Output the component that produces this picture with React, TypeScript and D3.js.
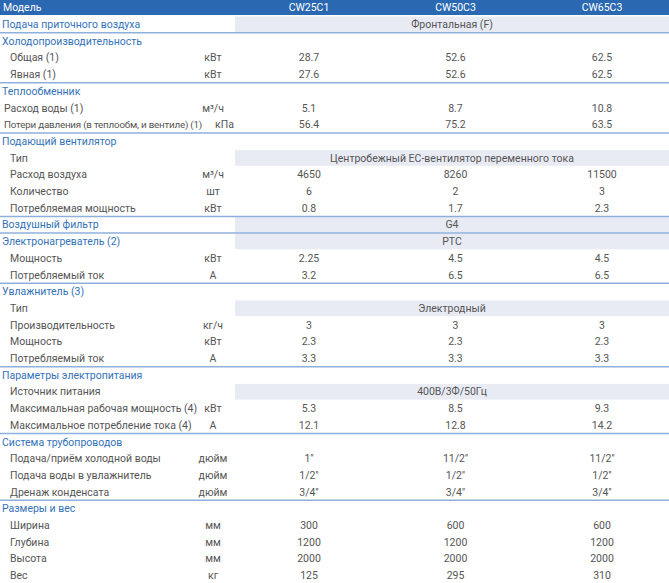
import React from "react";
import * as d3 from "d3";

const models = ["CW25C1", "CW50C3", "CW65C3"];

// kind: s = section header, i = indented item, f = flush item
const rowKinds = [
  "s", "s", "i", "i", "s", "f", "f", "s", "i", "i", "i", "i", "s", "s", "i", "i",
  "s", "i", "i", "i", "i", "s", "i", "i", "i", "s", "i", "i", "i", "s", "i", "i", "i", "i",
];

const rowLabels = [
  "Подача приточного воздуха",
  "Холодопроизводительность",
  "Общая (1)",
  "Явная (1)",
  "Теплообменник",
  "Расход воды (1)",
  "Потери давления (в теплообм, и вентиле) (1)",
  "Подающий вентилятор",
  "Тип",
  "Расход воздуха",
  "Количество",
  "Потребляемая мощность",
  "Воздушный фильтр",
  "Электронагреватель (2)",
  "Мощность",
  "Потребляемый ток",
  "Увлажнитель (3)",
  "Тип",
  "Производительность",
  "Мощность",
  "Потребляемый ток",
  "Параметры электропитания",
  "Источник питания",
  "Максимальная рабочая мощность (4)",
  "Максимальное потребление тока (4)",
  "Система трубопроводов",
  "Подача/приём холодной воды",
  "Подача воды в увлажнитель",
  "Дренаж конденсата",
  "Размеры и вес",
  "Ширина",
  "Глубина",
  "Высота",
  "Вес",
];

const rowUnits = [
  "", "", "кВт", "кВт", "", "м³/ч", "кПа", "", "", "м³/ч", "шт", "кВт", "", "", "кВт", "А",
  "", "", "кг/ч", "кВт", "А", "", "", "кВт", "А", "", "дюйм", "дюйм", "дюйм", "", "мм", "мм", "мм", "кг",
];

// merged (spanning all models) cell text, by row index
const mergedCells: [number, string][] = [
  [0, "Фронтальная (F)"],
  [8, "Центробежный EC-вентилятор переменного тока"],
  [12, "G4"],
  [13, "PTC"],
  [17, "Электродный"],
  [22, "400В/3Ф/50Гц"],
];

// per-model values, by row index
const modelValues: [number, string[]][] = [
  [2, ["28.7", "52.6", "62.5"]],
  [3, ["27.6", "52.6", "62.5"]],
  [5, ["5.1", "8.7", "10.8"]],
  [6, ["56.4", "75.2", "63.5"]],
  [9, ["4650", "8260", "11500"]],
  [10, ["6", "2", "3"]],
  [11, ["0.8", "1.7", "2.3"]],
  [14, ["2.25", "4.5", "4.5"]],
  [15, ["3.2", "6.5", "6.5"]],
  [18, ["3", "3", "3"]],
  [19, ["2.3", "2.3", "2.3"]],
  [20, ["3.3", "3.3", "3.3"]],
  [23, ["5.3", "8.5", "9.3"]],
  [24, ["12.1", "12.8", "14.2"]],
  [26, ["1''", "11/2''", "11/2''"]],
  [27, ["1/2''", "1/2''", "1/2''"]],
  [28, ["3/4''", "3/4''", "3/4''"]],
  [30, ["300", "600", "600"]],
  [31, ["1200", "1200", "1200"]],
  [32, ["2000", "2000", "2000"]],
  [33, ["125", "295", "310"]],
];

// rows after which a divider line is drawn
const dividerAfter = [0, 3, 6, 11, 12, 15, 20, 24, 28];

const W = 669;
const H = 583;
const FONT = "Roboto, 'Noto Sans', sans-serif";
const BLUE = "#2a68b2";
const SECTION = "#3472b9";
const TEXT = "#555555";
const LINE = "#8fb0dc";
const BAND = "#e9ebf4";

export default function App() {
  const idx = d3.range(rowLabels.length);
  const y = d3
    .scaleBand<number>()
    .domain(idx)
    .range([16, 16 + rowLabels.length * 16.7]);
  const x = d3.scalePoint<string>().domain(models).range([309, 602]);
  const bandX0 = 235;
  const mergedCenter = (bandX0 + W) / 2;
  const unitX = 213;
  const fs = 10.5;

  return (
    <div style={{ position: "absolute", left: 0, top: 0 }}>
      <svg width={W} height={H} style={{ display: "block" }} fontFamily={FONT}>
        <rect x={0} y={0} width={W} height={H} fill="#ffffff" />
        {/* header */}
        <rect x={0} y={0} width={W} height={15} fill={BLUE} />
        <text x={3} y={7.5} dy="0.35em" fill="#ffffff" fontSize={fs}>
          Модель
        </text>
        {models.map((m) => (
          <text key={m} x={x(m)} y={7.5} dy="0.35em" fill="#ffffff" fontSize={fs} textAnchor="middle">
            {m}
          </text>
        ))}
        {/* merged bands */}
        {mergedCells.map(([r, t]) => (
          <g key={"m" + r}>
            <rect x={bandX0} y={y(r)! + 0.5} width={W - bandX0} height={y.bandwidth() - 1} fill={BAND} />
            <text x={mergedCenter} y={y(r)! + y.bandwidth() / 2} dy="0.35em" fill={TEXT} fontSize={fs} textAnchor="middle">
              {t}
            </text>
          </g>
        ))}
        {/* dividers */}
        {dividerAfter.map((r) => (
          <line
            key={"d" + r}
            x1={0}
            x2={W}
            y1={y(r)! + y.bandwidth()}
            y2={y(r)! + y.bandwidth()}
            stroke={LINE}
            strokeWidth={1.5}
          />
        ))}
        {/* labels */}
        {idx.map((r) => {
          const kind = rowKinds[r];
          const cy = y(r)! + y.bandwidth() / 2;
          const lx = kind === "i" ? 10 : kind === "f" ? 4 : 2;
          const long = rowLabels[r].length > 40;
          return (
            <text
              key={"l" + r}
              x={lx}
              y={cy}
              dy="0.35em"
              fill={kind === "s" ? SECTION : TEXT}
              fontSize={long ? 9.8 : fs}
              letterSpacing={long ? -0.2 : undefined}
            >
              {rowLabels[r]}
            </text>
          );
        })}
        {/* units */}
        {idx
          .filter((r) => rowUnits[r] !== "")
          .map((r) => (
            <text
              key={"u" + r}
              x={rowUnits[r] === "кПа" ? 215 : unitX}
              y={y(r)! + y.bandwidth() / 2}
              dy="0.35em"
              fill={TEXT}
              fontSize={fs}
              textAnchor={rowUnits[r] === "кПа" ? "start" : "middle"}
            >
              {rowUnits[r]}
            </text>
          ))}
        {/* values */}
        {modelValues.map(([r, vals]) =>
          vals.map((v, i) => (
            <text
              key={"v" + r + "_" + i}
              x={x(models[i])}
              y={y(r)! + y.bandwidth() / 2}
              dy="0.35em"
              fill={TEXT}
              fontSize={fs}
              textAnchor="middle"
            >
              {v}
            </text>
          ))
        )}
      </svg>
    </div>
  );
}
